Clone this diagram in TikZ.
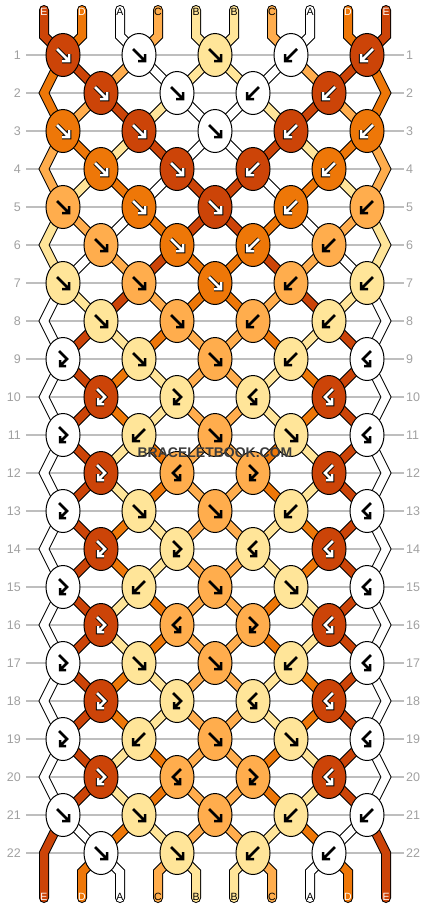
\documentclass[tikz,border=0pt]{standalone}
\usepackage{fontspec}
\setmainfont{Liberation Sans}
\usetikzlibrary{shapes.geometric}

\definecolor{colA}{RGB}{255,255,255}
\definecolor{colB}{RGB}{255,229,153}
\definecolor{colC}{RGB}{255,173,77}
\definecolor{colD}{RGB}{238,119,8}
\definecolor{colE}{RGB}{204,68,8}
\definecolor{rowgray}{RGB}{160,160,160}
\definecolor{linegray}{RGB}{190,190,190}
\definecolor{wmgray}{RGB}{60,60,60}

\pgfdeclarelayer{grid}
\pgfdeclarelayer{strings}
\pgfsetlayers{grid,strings,main}

% name of the knot (or edge point) holding string #2 in row #1
\newcommand\knotat[3]{%
  \ifodd#1\relax
    \pgfmathtruncatemacro\kq{(#2+1)/2}\edef#3{k#1-\kq}%
  \else
    \ifnum#2=1\relax \edef#3{l#1}%
    \else\ifnum#2=10\relax \edef#3{r#1}%
    \else \pgfmathtruncatemacro\kq{#2/2}\edef#3{k#1-\kq}%
    \fi\fi
  \fi}

\tikzset{
  knot/.style={ellipse,draw=black,line width=1pt,minimum width=34pt,minimum height=43pt,inner sep=0pt},
  str/.style={draw=black,line width=1pt,double=#1,double distance=8pt,line join=miter},
  rowline/.style={draw=linegray,line width=1.2pt},
  rowlbl/.style={text=rowgray,inner sep=0pt,font=\fontsize{12.5}{14}\selectfont},
  strlbl/.style={inner sep=0pt,font=\fontsize{10.5}{12}\selectfont},
  wmark/.style={text=wmgray,inner sep=0pt,font=\bfseries\fontsize{14}{16}\selectfont},
  txtA/.style={text=black}, txtB/.style={text=black}, txtC/.style={text=black},
  txtD/.style={text=white}, txtE/.style={text=white},
  arwbg/.style={draw=none},
  arwfg/.style={draw=black,line width=2.5pt,line join=miter},
  onA/.style={}, onB/.style={}, onC/.style={},
  onD/.style={arwbg/.style={draw=black,line width=4.5pt,line join=miter},
              arwfg/.style={draw=white,line width=2.5pt,line join=miter}},
  onE/.style={onD},
  kf/.pic={\draw[arwbg] (-6,-6)--(6,6) (6,-1)--(6,6)--(-1,6);
           \draw[arwfg] (-6,-6)--(6,6) (6,-1)--(6,6)--(-1,6);},
  kb/.pic={\draw[arwbg] (6,-6)--(-6,6) (-6,-1)--(-6,6)--(1,6);
           \draw[arwfg] (6,-6)--(-6,6) (-6,-1)--(-6,6)--(1,6);},
  kfb/.pic={\draw[arwbg] (-4,-8)--(4,0)--(-3,7) (-3,1)--(-3,7)--(3,7);
            \draw[arwfg] (-4,-8)--(4,0)--(-3,7) (-3,1)--(-3,7)--(3,7);},
  kbf/.pic={\draw[arwbg] (4,-8)--(-4,0)--(3,7) (3,1)--(3,7)--(-3,7);
            \draw[arwfg] (4,-8)--(-4,0)--(3,7) (3,1)--(3,7)--(-3,7);}
}

\begin{document}
\begin{tikzpicture}[x=1pt,y=-1pt]
\useasboundingbox (0,0) rectangle (430,908);

% string ends
\foreach \p in {1,...,10}{
  \pgfmathsetmacro\xx{44+38*(\p-1)}
  \coordinate (t\p) at (\xx,10);
  \coordinate (u\p) at (\xx,36);
  \coordinate (v\p) at (\xx,872);
  \coordinate (w\p) at (\xx,898);
}
% edge points on even rows
\foreach \rw in {2,4,...,22}{
  \pgfmathsetmacro\yy{55+38*(\rw-1)}
  \coordinate (l\rw) at (44,\yy);
  \coordinate (r\rw) at (386,\yy);
}

% row numbers
\foreach \rw in {1,...,22}{
  \pgfmathsetmacro\yy{55+38*(\rw-1)}
  \node[rowlbl,anchor=east] (nl\rw) at (21,\yy) {\rw};
  \node[rowlbl,anchor=west] (nr\rw) at (406,\yy) {\rw};
}

% knots
\foreach \rw/\kl in {
  1/{f/E,f/A,f/B,b/A,b/E}, 2/{f/E,f/A,b/A,b/E},
  3/{f/D,f/E,f/A,b/E,b/D}, 4/{f/D,f/E,b/E,b/D},
  5/{f/C,f/D,f/E,b/D,b/C}, 6/{f/C,f/D,b/D,b/C},
  7/{f/B,f/C,f/D,b/C,b/B}, 8/{f/B,f/C,b/C,b/B},
  9/{fb/A,f/B,f/C,b/B,bf/A}, 10/{fb/E,fb/B,bf/B,bf/E},
  11/{fb/A,b/B,f/C,f/B,bf/A}, 12/{fb/E,bf/C,fb/C,bf/E},
  13/{fb/A,f/B,f/C,b/B,bf/A}, 14/{fb/E,fb/B,bf/B,bf/E},
  15/{fb/A,b/B,f/C,f/B,bf/A}, 16/{fb/E,bf/C,fb/C,bf/E},
  17/{fb/A,f/B,f/C,b/B,bf/A}, 18/{fb/E,fb/B,bf/B,bf/E},
  19/{fb/A,b/B,f/C,f/B,bf/A}, 20/{fb/E,bf/C,fb/C,bf/E},
  21/{f/A,f/B,f/C,b/B,b/A}, 22/{f/A,f/B,b/B,b/A}}{
  \pgfmathsetmacro\yy{55+38*(\rw-1)}
  \ifodd\rw\relax \def\xo{63}\else \def\xo{101}\fi
  \foreach \ty/\cl [count=\k] in \kl {
    \pgfmathsetmacro\xx{\xo+76*(\k-1)}
    \node[knot,fill=col\cl] (k\rw-\k) at (\xx,\yy) {};
    \pic[on\cl] at (\xx,\yy) {k\ty};
  }
}

% string letters
\foreach \cl [count=\p] in {E,D,A,C,B,B,C,A,D,E}{
  \node[strlbl,txt\cl] (a\p) at ([yshift=-2pt]t\p) {\cl};
  \node[strlbl,txt\cl] (z\p) at ([yshift=1.5pt]w\p) {\cl};
}

\begin{pgfonlayer}{grid}
\foreach \rw in {1,...,22}
  \draw[rowline] ([xshift=5pt]nl\rw.east) -- ([xshift=-2pt]nr\rw.west);
\end{pgfonlayer}

\begin{pgfonlayer}{strings}
% top
\foreach \cl [count=\p] in {E,D,A,C,B,B,C,A,D,E}{
  \pgfmathtruncatemacro\kq{(\p+1)/2}
  \draw[str=col\cl,line cap=round] (t\p) -- (u\p) -- (k1-\kq.center);
}
% between rows
\foreach \rw/\ord in {
  1/{D,E,C,A,B,B,A,C,E,D}, 2/{D,C,E,B,A,A,B,E,C,D},
  3/{C,D,B,E,A,A,E,B,D,C}, 4/{C,B,D,A,E,E,A,D,B,C},
  5/{B,C,A,D,E,E,D,A,C,B}, 6/{B,A,C,E,D,D,E,C,A,B},
  7/{A,B,E,C,D,D,C,E,B,A}, 8/{A,E,B,D,C,C,D,B,E,A},
  9/{A,E,D,B,C,C,B,D,E,A}, 10/{A,E,D,B,C,C,B,D,E,A},
  11/{A,E,B,D,C,C,D,B,E,A}, 12/{A,E,B,D,C,C,D,B,E,A},
  13/{A,E,D,B,C,C,B,D,E,A}, 14/{A,E,D,B,C,C,B,D,E,A},
  15/{A,E,B,D,C,C,D,B,E,A}, 16/{A,E,B,D,C,C,D,B,E,A},
  17/{A,E,D,B,C,C,B,D,E,A}, 18/{A,E,D,B,C,C,B,D,E,A},
  19/{A,E,B,D,C,C,D,B,E,A}, 20/{A,E,B,D,C,C,D,B,E,A},
  21/{E,A,D,B,C,C,B,D,A,E}}{
  \pgfmathtruncatemacro\nx{\rw+1}
  \foreach \cl [count=\p] in \ord {
    \ifnum\p>1\relax\ifnum\p<10\relax
      \knotat{\rw}{\p}{\na}\knotat{\nx}{\p}{\nb}
      \draw[str=col\cl] (\na.center) -- (\nb.center);
    \fi\fi
  }
}
% edges
\foreach \rw/\cl in {2/D,4/C,6/B,8/A,10/A,12/A,14/A,16/A,18/A,20/A}{
  \pgfmathtruncatemacro\pv{\rw-1}
  \pgfmathtruncatemacro\nx{\rw+1}
  \draw[str=col\cl] (k\pv-1.center) -- (l\rw) -- (k\nx-1.center);
  \draw[str=col\cl] (k\pv-5.center) -- (r\rw) -- (k\nx-5.center);
}
\draw[str=colE,line cap=round] (k21-1.center) -- (l22) -- (w1);
\draw[str=colE,line cap=round] (k21-5.center) -- (r22) -- (w10);
% bottom
\foreach \cl [count=\p] in {E,D,A,C,B,B,C,A,D,E}{
  \ifnum\p>1\relax\ifnum\p<10\relax
    \pgfmathtruncatemacro\kq{\p/2}
    \draw[str=col\cl,line cap=round] (k22-\kq.center) -- (v\p) -- (w\p);
  \fi\fi
}
\end{pgfonlayer}

\node[wmark] (wm) at (215,453) {BRACELETBOOK.COM};
\end{tikzpicture}
\end{document}
